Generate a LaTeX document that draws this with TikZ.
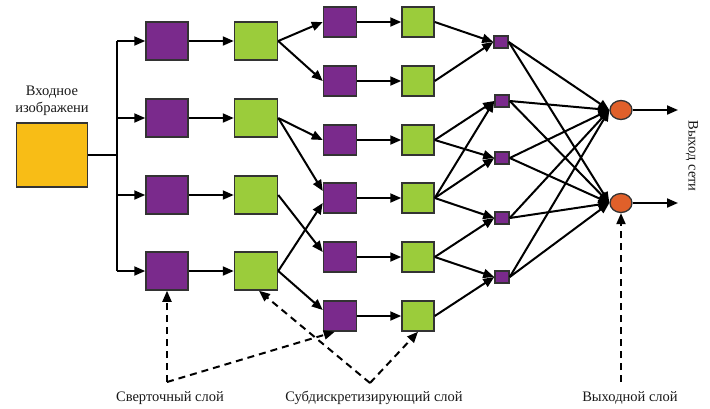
\documentclass[tikz,border=0pt]{standalone}
\usepackage{fontspec}
\setmainfont{Liberation Serif}
\usepackage{xcolor}
\usetikzlibrary{positioning,shapes.geometric,arrows.meta}
\definecolor{inyellow}{HTML}{F8BD16}
\definecolor{cpurple}{HTML}{7A2A8C}
\definecolor{sgreen}{HTML}{9BCC3B}
\definecolor{outorange}{HTML}{E0602A}

\begin{document}
\begin{tikzpicture}[x=1pt,y=-1pt,
    box/.style={rectangle,draw=black!80,line width=1.5pt,inner sep=0pt},
    convbig/.style={box,fill=cpurple,minimum width=42pt,minimum height=38pt},
    subbig/.style={box,fill=sgreen,minimum width=43pt,minimum height=38pt},
    convmid/.style={box,fill=cpurple,minimum width=33pt,minimum height=30pt},
    submid/.style={box,fill=sgreen,minimum width=32pt,minimum height=30pt},
    convsmall/.style={box,fill=cpurple,minimum width=14pt,minimum height=12pt},
    outnode/.style={ellipse,draw=black!80,line width=1.3pt,fill=outorange,
                    minimum width=22pt,minimum height=19pt,inner sep=0pt},
    lbl/.style={font=\fontsize{14.5}{17}\selectfont,text=black!90},
    arr/.style={-{Triangle[length=11pt,width=9pt]},line width=2pt},
    dasharr/.style={-{Triangle[length=11pt,width=9pt]},line width=2pt,
                    dash pattern=on 7pt off 5pt}]
\useasboundingbox (0,0) rectangle (710,408);
% input
\node[box,fill=inyellow,minimum width=71pt,minimum height=64pt] (img) at (52,155) {};
\node[lbl,align=center] (inlbl) at (52,101) {Входное\\изображени};
\coordinate (bus) at (117,155);
\coordinate (b1) at (117,41);  \coordinate (b2) at (117,118);
\coordinate (b3) at (117,195); \coordinate (b4) at (117,271);
% first convolution and subsampling
\node[convbig] (c1) at (167,41)  {};
\node[convbig] (c2) at (167,118) {};
\node[convbig] (c3) at (167,195) {};
\node[convbig] (c4) at (167,271) {};
\node[subbig]  (s1) at (256,41)  {};
\node[subbig]  (s2) at (256,118) {};
\node[subbig]  (s3) at (256,195) {};
\node[subbig]  (s4) at (256,271) {};
% second convolution and subsampling
\node[convmid] (c21) at (340,22)  {};
\node[convmid] (c22) at (340,81)  {};
\node[convmid] (c23) at (340,140) {};
\node[convmid] (c24) at (340,198) {};
\node[convmid] (c25) at (340,257) {};
\node[convmid] (c26) at (340,316) {};
\node[submid]  (s21) at (418,22)  {};
\node[submid]  (s22) at (418,81)  {};
\node[submid]  (s23) at (418,140) {};
\node[submid]  (s24) at (418,198) {};
\node[submid]  (s25) at (418,257) {};
\node[submid]  (s26) at (418,316) {};
% small layer and outputs
\node[convsmall] (f1) at (501,42)  {};
\node[convsmall] (f2) at (502,101) {};
\node[convsmall] (f3) at (502,158) {};
\node[convsmall] (f4) at (502,218) {};
\node[convsmall] (f5) at (502,277) {};
\node[outnode] (o1) at (621,110) {};
\node[outnode] (o2) at (621,203) {};
\coordinate (out1) at (678,110); \coordinate (out2) at (678,203);
\node[lbl,rotate=-90] (outlbl) at (692,156) {Выход сети};
% labels
\node[lbl] (convlbl) at (170,398) {Сверточный слой};
\node[lbl] (sublbl)  at (374,398) {Субдискретизирующий слой};
\node[lbl] (olbl)    at (630,398) {Выходной слой};
\coordinate (k1) at (167,382); \coordinate (k2) at (370,383);
\coordinate (k3) at (621,382);
% connectors
\draw[line width=2pt](img.east)--(bus);\draw[line width=2pt](b1)--(b4);
\draw[arr](b1)--(c1);\draw[arr](b2)--(c2);\draw[arr](b3)--(c3);\draw[arr](b4)--(c4);
\draw[arr](c1)--(s1);\draw[arr](c2)--(s2);\draw[arr](c3)--(s3);\draw[arr](c4)--(s4);
\draw[arr](s1.east)--(c21.west);\draw[arr](s1.east)--(c22.west);
\draw[arr](s2.east)--(c23.west);\draw[arr](s2.east)--([yshift=7pt]c24.west);
\draw[arr](s3.east)--([yshift=5pt]c25.west);
\draw[arr](s4.east)--([yshift=-5pt]c24.west);\draw[arr](s4.east)--([yshift=6pt]c26.west);
\draw[arr](c21)--(s21);\draw[arr](c22)--(s22);\draw[arr](c23)--(s23);
\draw[arr](c24)--(s24);\draw[arr](c25)--(s25);\draw[arr](c26)--(s26);
\draw[arr](s21.east)--(f1.west);\draw[arr](s22.east)--(f1.west);
\draw[arr](s23.east)--(f2.west);\draw[arr](s23.east)--(f3.west);
\draw[arr](s24.east)--(f2.west);\draw[arr](s24.east)--(f3.west);\draw[arr](s24.east)--(f4.west);
\draw[arr](s25.east)--(f4.west);\draw[arr](s25.east)--(f5.west);
\draw[arr](s26.east)--(f5.west);
\draw[arr](f1.east)--(o1.west);\draw[arr](f1.east)--(o2.west);
\draw[arr](f2.east)--(o1.west);\draw[arr](f2.east)--(o2.west);
\draw[arr](f3.east)--(o1.west);\draw[arr](f3.east)--(o2.west);
\draw[arr](f4.east)--(o1.west);\draw[arr](f4.east)--(o2.west);
\draw[arr](f5.east)--(o1.west);\draw[arr](f5.east)--(o2.west);
\draw[arr](o1)--(out1);\draw[arr](o2)--(out2);
% dashed pointers
\draw[dasharr](k1)--(c4.south);\draw[dasharr](k1)--([xshift=12pt]c26.south west);
\draw[dasharr](k2)--([xshift=3pt]s4.south);\draw[dasharr](k2)--(s26.south);
\draw[dasharr](k3)--(o2.south);
\end{tikzpicture}
\end{document}
